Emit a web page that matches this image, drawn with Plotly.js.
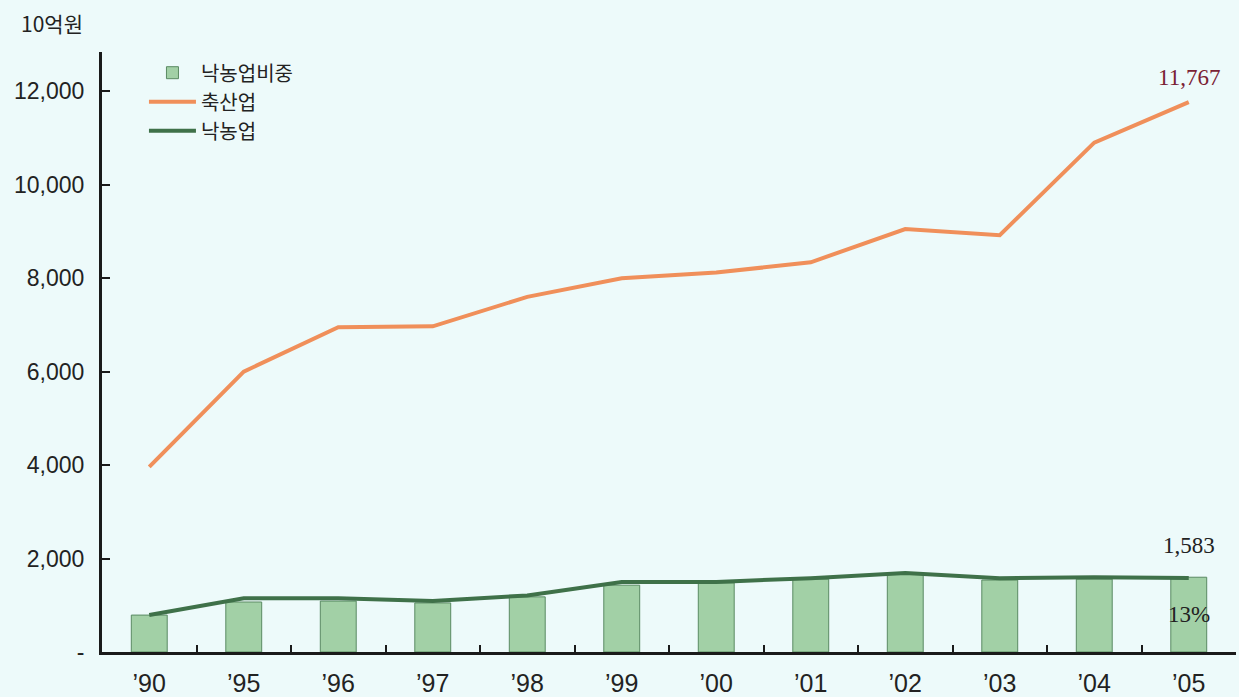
<!DOCTYPE html>
<html><head><meta charset="utf-8">
<script src="https://cdn.plot.ly/plotly-3.0.1.min.js"></script>
<style>html,body{margin:0;padding:0;background:#edfafa;} #chart{width:1239px;height:697px;}</style>
</head><body><div id="chart"></div>
<script>
const years = ["’90","’95","’96","’97","’98","’99","’00","’01","’02","’03","’04","’05"];
const livestock = [3960, 6000, 6950, 6970, 7600, 8000, 8120, 8340, 9050, 8920, 10900, 11767];
const dairy = [790, 1150, 1150, 1090, 1210, 1500, 1500, 1580, 1690, 1580, 1600, 1583];
const dairyShareBars = [790, 1070, 1090, 1050, 1180, 1430, 1480, 1560, 1670, 1540, 1560, 1600];
const shareLabel = "13%";
const yTickVals = [0, 2000, 4000, 6000, 8000, 10000, 12000];
const yTickText = ["-", "2,000", "4,000", "6,000", "8,000", "10,000", "12,000"];
const seriesNames = ["낙농업비중", "축산업", "낙농업"];
const unitLabel = "10억원";

const last = years.length - 1;
const sans = "Liberation Sans, Arial, sans-serif";
const serif = "Liberation Serif, Times New Roman, serif";
const kr = "Noto Sans CJK KR, Noto Sans, sans-serif";

const traces = [
  {type:'bar', name: seriesNames[0], x: years, y: dairyShareBars, width: 0.38,
   marker:{color:'#a2d0a6', line:{color:'#5a8a63', width:1}}, hoverinfo:'skip'},
  {type:'scatter', mode:'lines', name: seriesNames[1], x: years, y: livestock,
   line:{color:'#f08f5a', width:4}, hoverinfo:'skip'},
  {type:'scatter', mode:'lines', name: seriesNames[2], x: years, y: dairy,
   line:{color:'#3f7149', width:4}, hoverinfo:'skip'}
];

const layout = {
  width:1239, height:697,
  margin:{l:102, r:3, t:52, b:45},
  paper_bgcolor:'#edfafa', plot_bgcolor:'#edfafa',
  title:{text:unitLabel, xref:'container', yref:'container', x:21/1239, y:1-25/697,
         xanchor:'left', yanchor:'middle', font:{family:kr, size:21, color:'#222'}},
  showlegend:true,
  legend:{x:0.037, y:0.998, xanchor:'left', yanchor:'top', bgcolor:'rgba(0,0,0,0)',
          font:{family:kr, size:20, color:'#222'}, itemwidth:47, tracegroupgap:0},
  xaxis:{type:'category', range:[-0.5, 11.5], showline:true, linecolor:'#1a1a1a', linewidth:3,
         ticks:'inside', tickson:'boundaries', ticklen:7, tickwidth:2, tickcolor:'#1a1a1a',
         showgrid:false, zeroline:false, fixedrange:true,
         tickfont:{family:sans, size:25, color:'#222'}, ticklabelstandoff:7},
  yaxis:{range:[0, 12840], showline:true, linecolor:'#1a1a1a', linewidth:3,
         ticks:'inside', ticklen:8, tickwidth:2, tickcolor:'#1a1a1a',
         tickvals:yTickVals, ticktext:yTickText, showgrid:false, zeroline:false,
         tickfont:{family:sans, size:23, color:'#222'}, ticklabelstandoff:10},
  annotations:[
    {x:years[last], y:livestock[last], text:livestock[last].toLocaleString('en-US'), showarrow:false,
     yshift:25, font:{family:serif, size:23, color:'#7a2234'}},
    {x:years[last], y:dairy[last], text:dairy[last].toLocaleString('en-US'), showarrow:false,
     yshift:33, font:{family:serif, size:23, color:'#222'}},
    {x:years[last], y:dairyShareBars[last]/2, text:shareLabel, showarrow:false,
     font:{family:serif, size:23, color:'#222'}}
  ]
};
Plotly.newPlot('chart', traces, layout, {displayModeBar:false, staticPlot:true});
</script></body></html>
